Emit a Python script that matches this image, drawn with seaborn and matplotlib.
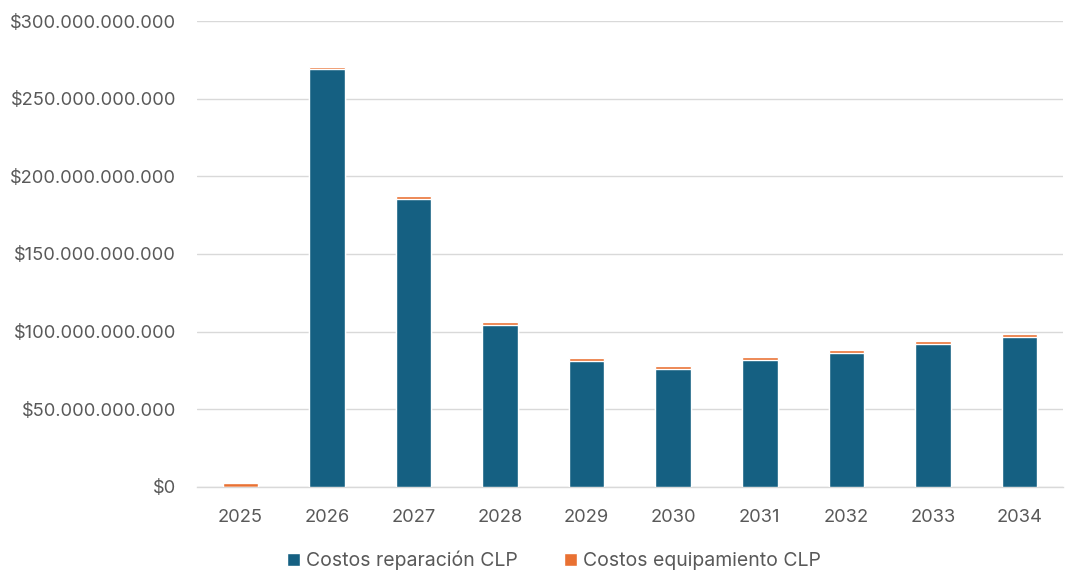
import matplotlib
matplotlib.use("Agg")
import matplotlib.pyplot as plt
from matplotlib.ticker import FuncFormatter, MultipleLocator
from matplotlib.patches import Patch
import seaborn as sns
import pandas as pd
import numpy as np

years = ["2025", "2026", "2027", "2028", "2029", "2030", "2031", "2032", "2033", "2034"]
repair_clp = [0, 269.0e9, 185.6e9, 104.5e9, 81.3e9, 76.2e9, 81.9e9, 86.5e9, 92.3e9, 96.8e9]
equipment_clp = [2.6e9, 1.5e9, 1.5e9, 1.5e9, 1.5e9, 1.5e9, 1.5e9, 1.5e9, 1.5e9, 1.5e9]

labels = ["Costos reparación CLP", "Costos equipamiento CLP"]
blue = "#156082"
orange = "#E97132"
grey_text = "#595959"

sns.set_theme(style="white")
plt.rcParams["font.family"] = ["Inter", "DejaVu Sans"]

df = pd.DataFrame({
    "year": years,
    "repair": repair_clp,
    "total": np.array(repair_clp) + np.array(equipment_clp),
})

fig = plt.figure(figsize=(10.65, 5.74), dpi=100)
ax = fig.add_axes([0.185, 0.152, 0.813, 0.811])

# stacked bars: total (orange) underneath, repair (blue) on top of it
sns.barplot(data=df, x="year", y="total", color=orange, saturation=1,
            width=0.41, ax=ax, zorder=3)
sns.barplot(data=df, x="year", y="repair", color=blue, saturation=1,
            width=0.41, ax=ax, zorder=4)

ax.set_ylim(0, 300e9)
ax.set_xlim(-0.5, len(years) - 0.5)
ax.yaxis.set_major_locator(MultipleLocator(50e9))


def clp(v, _):
    return "$" + f"{v:,.0f}".replace(",", ".")


ax.yaxis.set_major_formatter(FuncFormatter(clp))
ax.grid(axis="y", color="#d9d9d9", linewidth=1.0, zorder=0)
ax.set_axisbelow(True)
for side in ["top", "right", "left"]:
    ax.spines[side].set_visible(False)
ax.spines["bottom"].set_color("#d9d9d9")
ax.spines["bottom"].set_linewidth(1.0)
ax.set_xlabel("")
ax.set_ylabel("")
ax.tick_params(axis="both", length=0, labelsize=13.2, colors=grey_text)
ax.tick_params(axis="x", pad=16)
ax.tick_params(axis="y", pad=15)

handles = [Patch(facecolor=blue, label=labels[0]),
           Patch(facecolor=orange, label=labels[1])]
fig.legend(handles=handles, loc="center", bbox_to_anchor=(0.52, 0.024),
           ncol=2, frameon=False, fontsize=14, labelcolor=grey_text,
           handlelength=0.65, handleheight=0.65, handletextpad=0.3,
           columnspacing=2.4)

fig.savefig("out.png", dpi=100, facecolor="white")
